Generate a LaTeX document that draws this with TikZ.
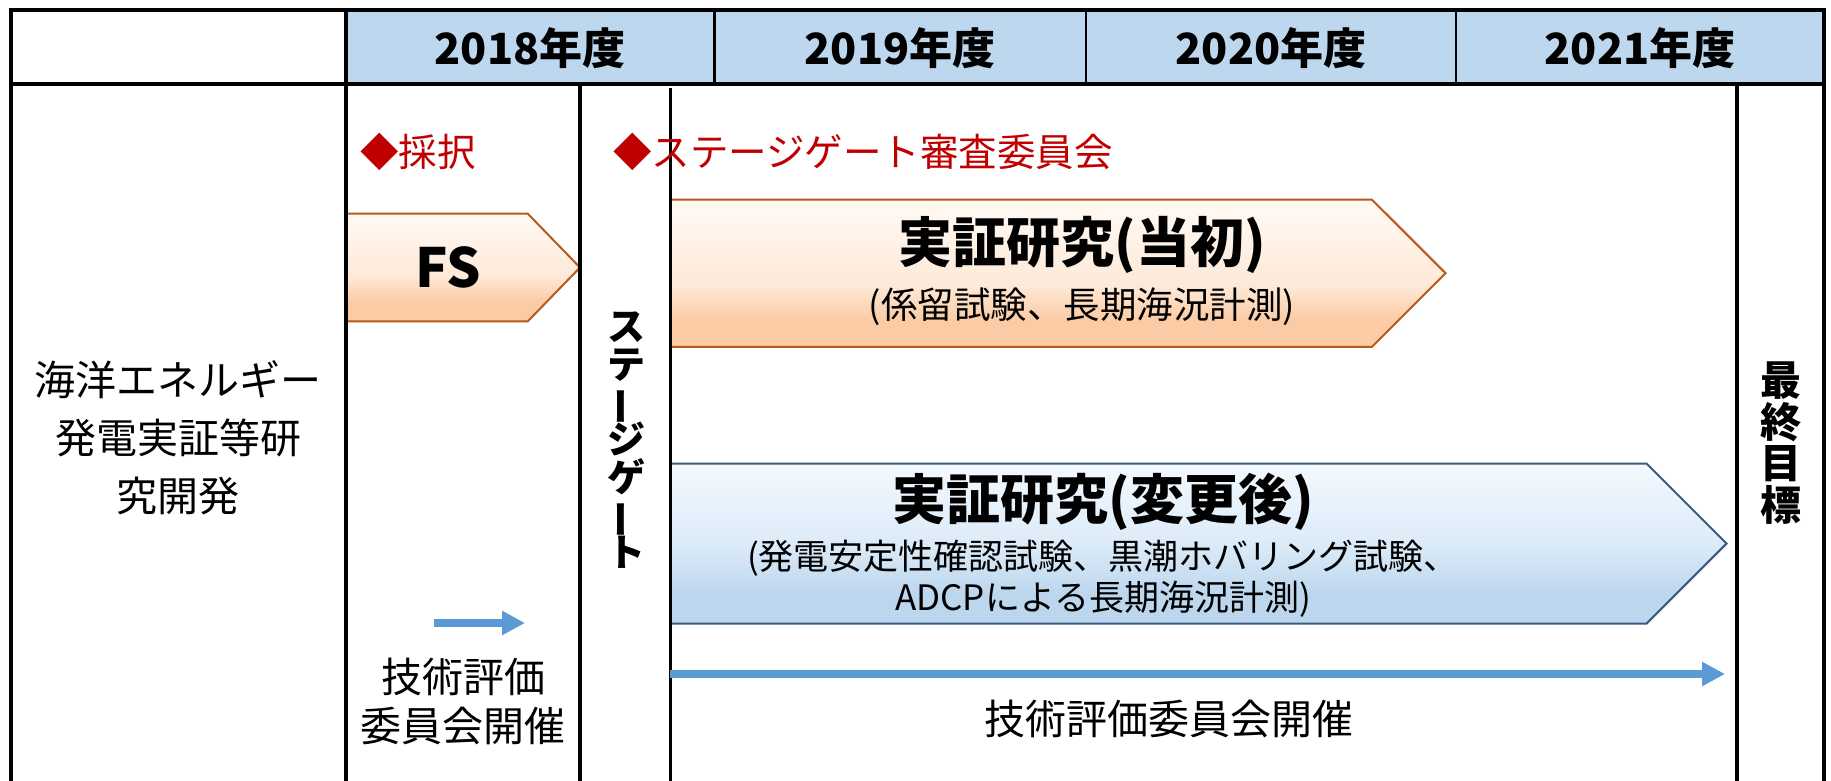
\documentclass[tikz,border=0pt]{standalone}
\usepackage{fontspec}
\setmainfont{Noto Sans CJK JP}
\usepackage{graphicx}
\usetikzlibrary{arrows.meta}

\definecolor{hdr}{HTML}{BDD7EE}
\definecolor{redt}{HTML}{C00000}
\definecolor{arrowblue}{HTML}{5B9BD5}
\definecolor{orT}{HTML}{FFFAF5}
\definecolor{orM}{HTML}{FEE9D8}
\definecolor{orB}{HTML}{FBCBA5}
\definecolor{orLine}{HTML}{B8581A}
\definecolor{blT}{HTML}{F4F9FE}
\definecolor{blM}{HTML}{DCEBF8}
\definecolor{blB}{HTML}{BCD6EE}
\definecolor{blLine}{HTML}{3B5A82}

\pgfdeclareverticalshading{orgrad}{100bp}{color(0bp)=(orB); color(25bp)=(orB); color(34bp)=(orB); color(46bp)=(orM); color(75bp)=(orT); color(100bp)=(orT)}
\pgfdeclareverticalshading{blgrad}{100bp}{color(0bp)=(blB); color(25bp)=(blB); color(34bp)=(blB); color(50bp)=(blM); color(75bp)=(blT); color(100bp)=(blT)}

\tikzset{
  frameline/.style={line width=4pt, line cap=rect},
  thinline/.style={line width=2.5pt},
  yr/.style={font=\fontsize{43}{45}\selectfont\bfseries, inner sep=0pt},
  body/.style={font=\fontsize{41}{58}\selectfont, align=center, inner sep=0pt},
  redlbl/.style={font=\fontsize{38.5}{40}\selectfont, text=redt, inner sep=0pt, anchor=west},
  orarrow/.style={shading=orgrad, draw=orLine, line width=2pt, line join=miter},
  blarrow/.style={shading=blgrad, draw=blLine, line width=2pt, line join=miter},
  ttl/.style={font=\fontsize{54}{58}\selectfont\bfseries, inner sep=0pt},
  sub/.style={font=\fontsize{36.5}{41}\selectfont, inner sep=0pt, align=center},
  tl/.style={draw=arrowblue, line width=7.5pt, -{Triangle[length=23pt,width=23pt]}},
  vert/.style={font=\fontsize{38}{37.6}\selectfont\bfseries, align=center, inner sep=0pt},
}
\newcommand{\vbar}{\smash{\rotatebox[origin=c]{90}{ー}}}

\begin{document}
\begin{tikzpicture}[x=1pt,y=-1pt]
\useasboundingbox (0,0) rectangle (1831,781);

% header fill
\fill[hdr] (345.6,10.5) rectangle (1824,84);

% arrows shapes
\shadedraw[orarrow] (345.6,213.7) -- (527.8,213.7) -- (580,267.5) -- (527.8,321.3) -- (345.6,321.3) -- cycle;
\shadedraw[orarrow] (670,199.7) -- (1372,199.7) -- (1445.6,273.2) -- (1372,346.8) -- (670,346.8) -- cycle;
\shadedraw[blarrow] (670,463.6) -- (1646.5,463.6) -- (1726.5,543.6) -- (1646.5,623.6) -- (670,623.6) -- cycle;

% grid lines
\draw[frameline] (10.5,781) -- (10.5,10.5) -- (1824,10.5) -- (1824,781);
\draw[frameline] (10.5,84) -- (1824,84);
\draw[frameline] (345.6,10.5) -- (345.6,781);
\draw[thinline] (714.6,10.5) -- (714.6,84);
\draw[thinline] (1086,10.5) -- (1086,84);
\draw[thinline] (1456,10.5) -- (1456,84);
\draw[frameline] (580,84) -- (580,781);
\draw[line width=3pt] (670,88) -- (670,781);
\draw[frameline] (1737,84) -- (1737,781);

% header texts
\node[yr] (y2018) at (530,48) {2018年度};
\node[yr] (y2019) at (900,48) {2019年度};
\node[yr] (y2020) at (1271,48) {2020年度};
\node[yr] (y2021) at (1640,48) {2021年度};

% left label
\node[body] (proj) at (178,438) {海洋エネルギー\\発電実証等研\\究開発};

% red labels
\node[redlbl] (saitaku) at (360,152) {◆採択};
\node[redlbl] (sgcomm) at (613,152) {◆ステージゲート審査委員会};

% FS
\node[font=\fontsize{54}{58}\selectfont\bfseries, inner sep=0pt] (fs) at (448,267) {FS};

% orange arrow texts
\node[ttl] (t1) at (1082,245) {実証研究(当初)};
\node[sub] (s1) at (1082,307) {(係留試験、長期海況計測)};

% blue arrow texts
\node[ttl] (t2) at (1103,502) {実証研究(変更後)};
\node[sub, font=\fontsize{35}{41}\selectfont] (s2) at (1103,579) {(発電安定性確認試験、黒潮ホバリング試験、\\ADCPによる長期海況計測)};

% vertical texts
\node[vert] (sg) at (626,440) {ス\\テ\\\vbar\\ジ\\ゲ\\\vbar\\ト};
\node[vert, font=\fontsize{41}{41.5}\selectfont\bfseries] (goal) at (1781,443) {最\\終\\目\\標};

% evaluation arrows
\coordinate (a1s) at (434,623);
\coordinate (a1e) at (525,623);
\draw[tl] (a1s) -- (a1e);
\node[font=\fontsize{41}{49}\selectfont, align=center, inner sep=0pt] (ev1) at (463,701) {技術評価\\委員会開催};

\coordinate (a2s) at (670,674);
\coordinate (a2e) at (1725,674);
\draw[tl] (a2s) -- (a2e);
\node[font=\fontsize{41}{49}\selectfont, inner sep=0pt] (ev2) at (1169,719) {技術評価委員会開催};
\end{tikzpicture}
\end{document}
